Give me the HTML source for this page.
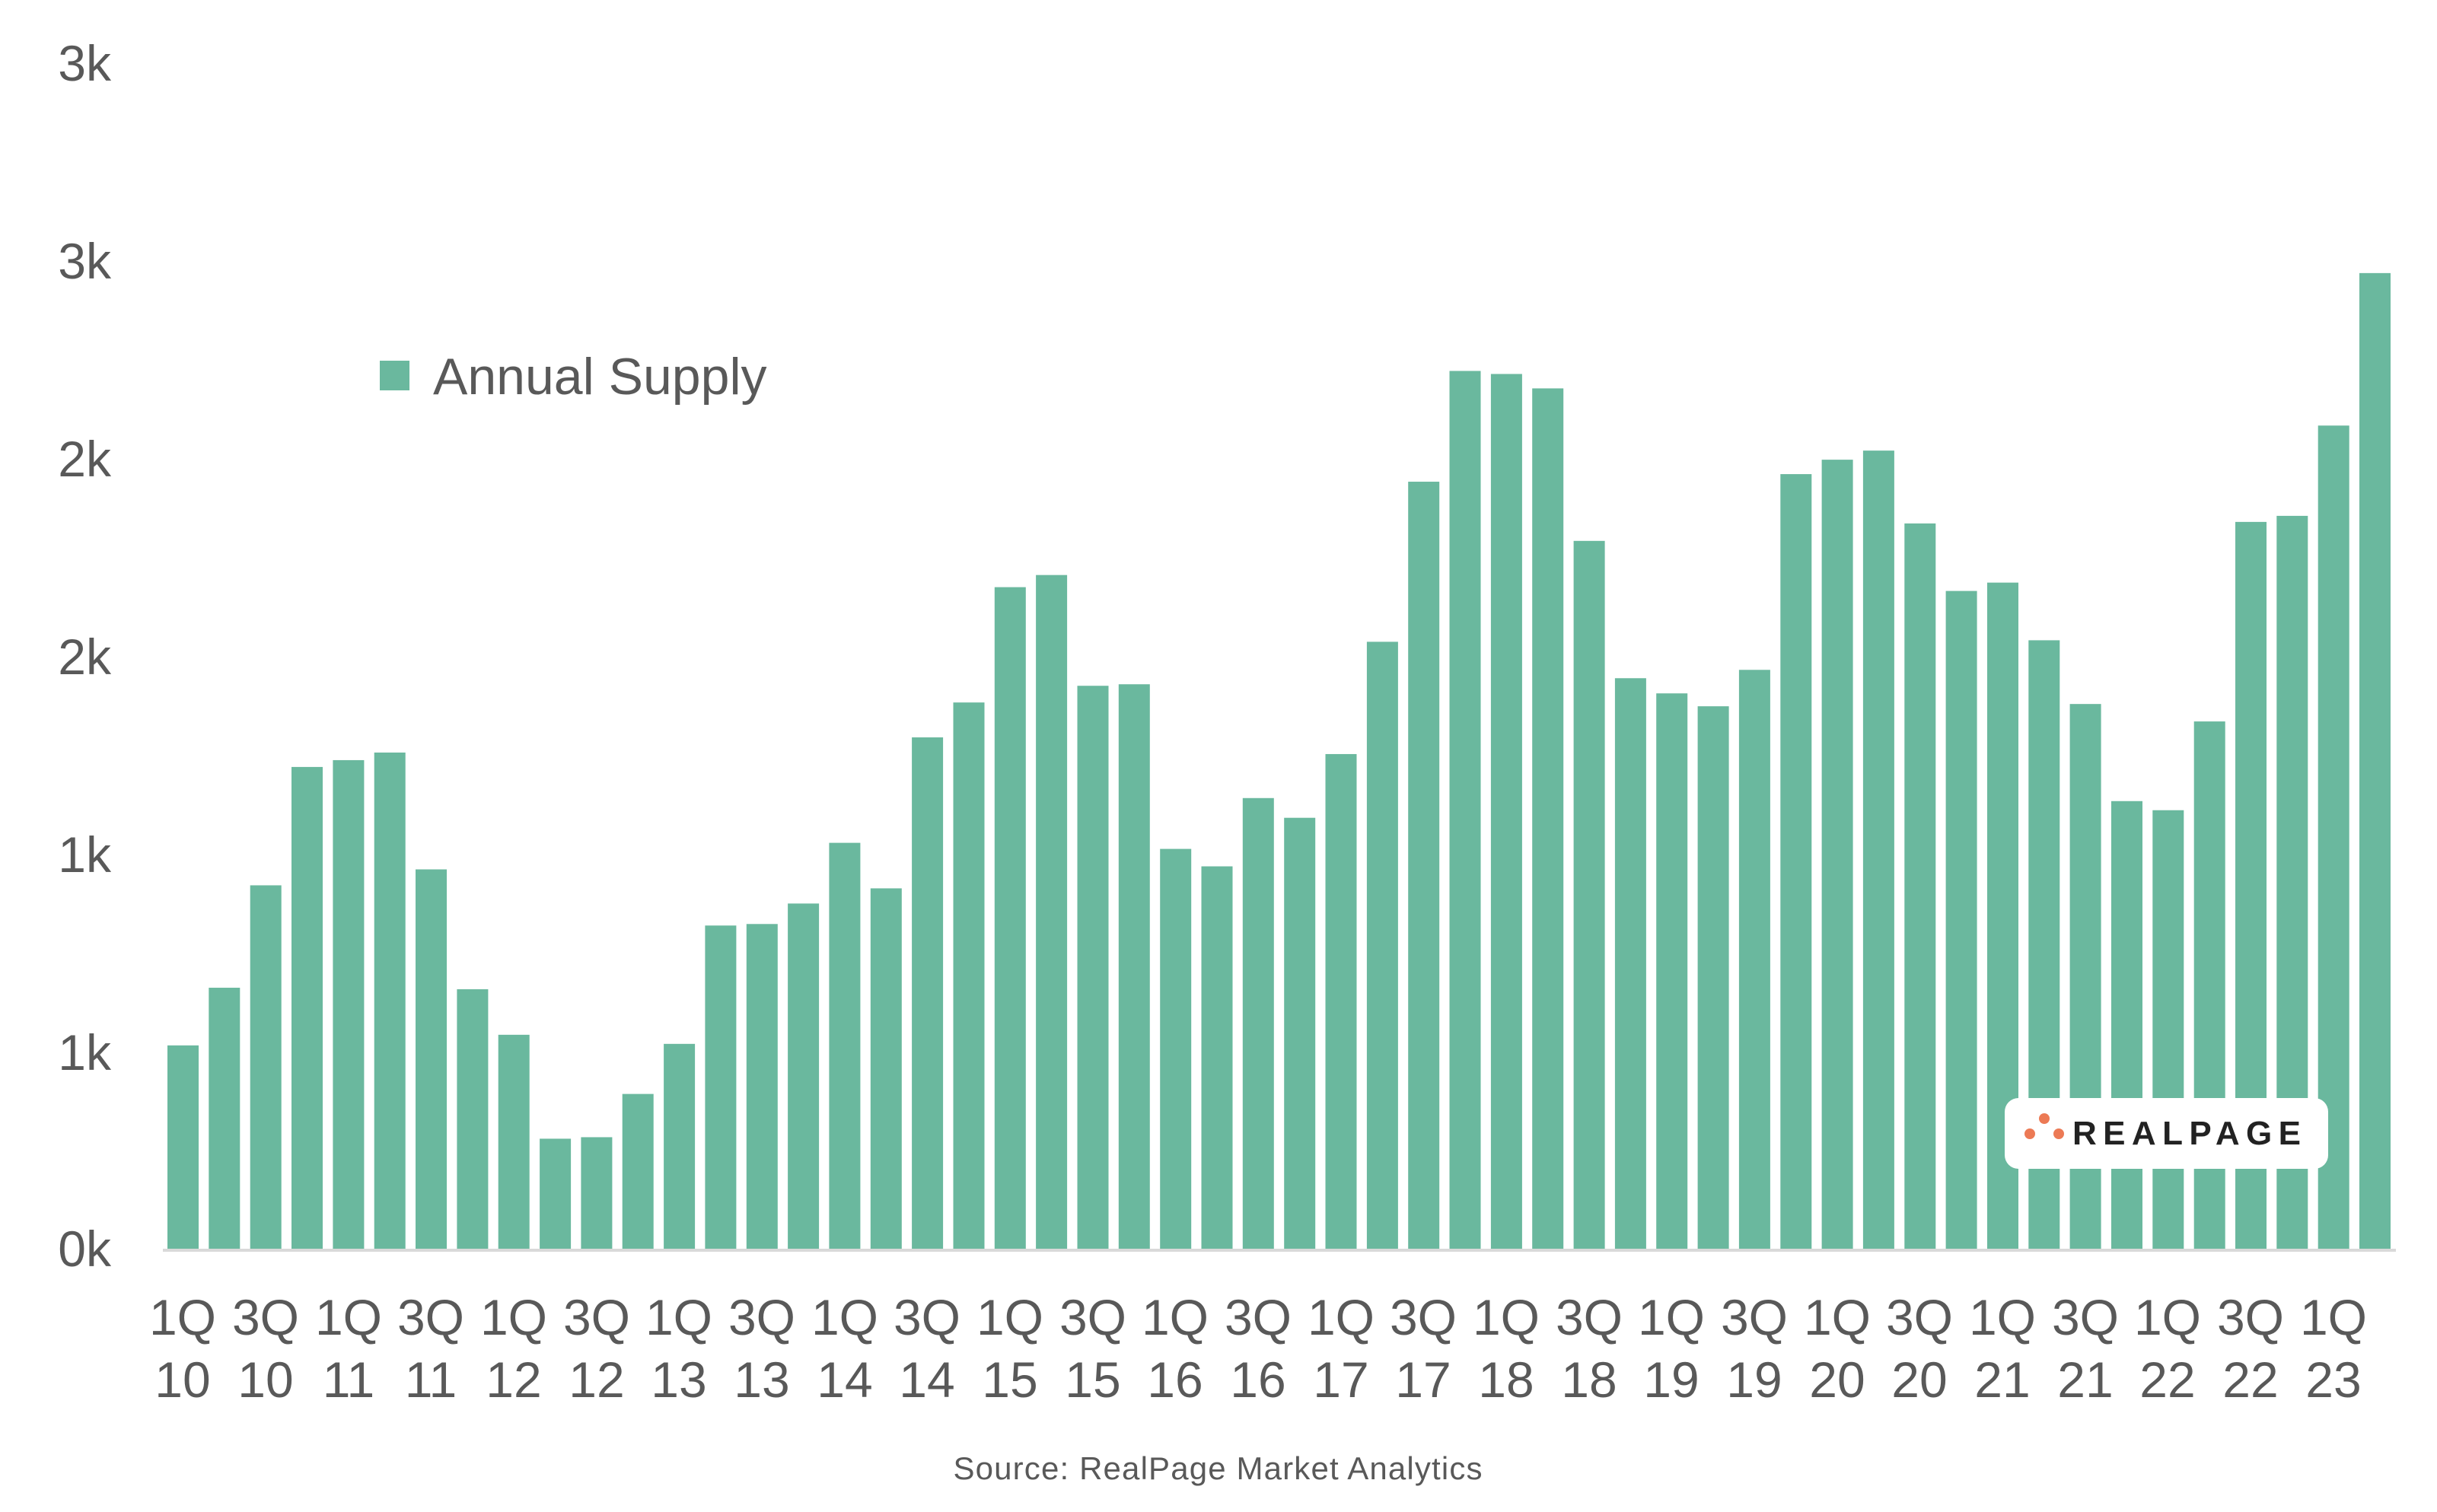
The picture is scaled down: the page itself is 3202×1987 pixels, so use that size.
<!DOCTYPE html>
<html><head><meta charset="utf-8"><style>
html,body{margin:0;padding:0;background:#fff;}
svg{display:block;}
text{font-family:"Liberation Sans",sans-serif;fill:#595959;}
</style></head><body>
<svg width="3202" height="1987" viewBox="0 0 3202 1987" xmlns="http://www.w3.org/2000/svg">
<g font-size="66" text-anchor="end">
<text x="146" y="106">3k</text>
<text x="146" y="366">3k</text>
<text x="146" y="626">2k</text>
<text x="146" y="886">2k</text>
<text x="146" y="1146">1k</text>
<text x="146" y="1406">1k</text>
<text x="146" y="1664">0k</text>
</g>
<g fill="#6ab89e" transform="translate(0,1642) scale(1,0.997) translate(0,-1646)">
<rect x="220" y="1377" width="41" height="269"/>
<rect x="274.3" y="1301" width="41" height="345"/>
<rect x="328.7" y="1166" width="41" height="480"/>
<rect x="383" y="1010" width="41" height="636"/>
<rect x="437.4" y="1001" width="41" height="645"/>
<rect x="491.7" y="991" width="41" height="655"/>
<rect x="546" y="1145" width="41" height="501"/>
<rect x="600.4" y="1303" width="41" height="343"/>
<rect x="654.7" y="1363" width="41" height="283"/>
<rect x="709.1" y="1500" width="41" height="146"/>
<rect x="763.4" y="1498" width="41" height="148"/>
<rect x="817.7" y="1441" width="41" height="205"/>
<rect x="872.1" y="1375" width="41" height="271"/>
<rect x="926.4" y="1219" width="41" height="427"/>
<rect x="980.8" y="1217" width="41" height="429"/>
<rect x="1035.1" y="1190" width="41" height="456"/>
<rect x="1089.4" y="1110" width="41" height="536"/>
<rect x="1143.8" y="1170" width="41" height="476"/>
<rect x="1198.1" y="971" width="41" height="675"/>
<rect x="1252.5" y="925" width="41" height="721"/>
<rect x="1306.8" y="773" width="41" height="873"/>
<rect x="1361.1" y="757" width="41" height="889"/>
<rect x="1415.5" y="903" width="41" height="743"/>
<rect x="1469.8" y="901" width="41" height="745"/>
<rect x="1524.2" y="1118" width="41" height="528"/>
<rect x="1578.5" y="1141" width="41" height="505"/>
<rect x="1632.8" y="1051" width="41" height="595"/>
<rect x="1687.2" y="1077" width="41" height="569"/>
<rect x="1741.5" y="993" width="41" height="653"/>
<rect x="1795.9" y="845" width="41" height="801"/>
<rect x="1850.2" y="634" width="41" height="1012"/>
<rect x="1904.5" y="488" width="41" height="1158"/>
<rect x="1958.9" y="492" width="41" height="1154"/>
<rect x="2013.2" y="511" width="41" height="1135"/>
<rect x="2067.6" y="712" width="41" height="934"/>
<rect x="2121.9" y="893" width="41" height="753"/>
<rect x="2176.2" y="913" width="41" height="733"/>
<rect x="2230.6" y="930" width="41" height="716"/>
<rect x="2284.9" y="882" width="41" height="764"/>
<rect x="2339.3" y="624" width="41" height="1022"/>
<rect x="2393.6" y="605" width="41" height="1041"/>
<rect x="2447.9" y="593" width="41" height="1053"/>
<rect x="2502.3" y="689" width="41" height="957"/>
<rect x="2556.6" y="778" width="41" height="868"/>
<rect x="2611" y="767" width="41" height="879"/>
<rect x="2665.3" y="843" width="41" height="803"/>
<rect x="2719.6" y="927" width="41" height="719"/>
<rect x="2774" y="1055" width="41" height="591"/>
<rect x="2828.3" y="1067" width="41" height="579"/>
<rect x="2882.7" y="950" width="41" height="696"/>
<rect x="2937" y="687" width="41" height="959"/>
<rect x="2991.3" y="679" width="41" height="967"/>
<rect x="3045.7" y="560" width="41" height="1086"/>
<rect x="3100" y="359" width="41" height="1287"/>
</g>
<rect x="214" y="1641" width="2934" height="4" fill="#d9d9d9"/>
<rect x="499" y="474" width="39" height="39" fill="#6ab89e"/>
<text x="569" y="518" font-size="68">Annual Supply</text>
<g font-size="66" text-anchor="middle">
<text x="240" y="1754">1Q</text><text x="240" y="1836">10</text>
<text x="349" y="1754">3Q</text><text x="349" y="1836">10</text>
<text x="458" y="1754">1Q</text><text x="458" y="1836">11</text>
<text x="566" y="1754">3Q</text><text x="566" y="1836">11</text>
<text x="675" y="1754">1Q</text><text x="675" y="1836">12</text>
<text x="784" y="1754">3Q</text><text x="784" y="1836">12</text>
<text x="892" y="1754">1Q</text><text x="892" y="1836">13</text>
<text x="1001" y="1754">3Q</text><text x="1001" y="1836">13</text>
<text x="1110" y="1754">1Q</text><text x="1110" y="1836">14</text>
<text x="1218" y="1754">3Q</text><text x="1218" y="1836">14</text>
<text x="1327" y="1754">1Q</text><text x="1327" y="1836">15</text>
<text x="1436" y="1754">3Q</text><text x="1436" y="1836">15</text>
<text x="1544" y="1754">1Q</text><text x="1544" y="1836">16</text>
<text x="1653" y="1754">3Q</text><text x="1653" y="1836">16</text>
<text x="1762" y="1754">1Q</text><text x="1762" y="1836">17</text>
<text x="1870" y="1754">3Q</text><text x="1870" y="1836">17</text>
<text x="1979" y="1754">1Q</text><text x="1979" y="1836">18</text>
<text x="2088" y="1754">3Q</text><text x="2088" y="1836">18</text>
<text x="2196" y="1754">1Q</text><text x="2196" y="1836">19</text>
<text x="2305" y="1754">3Q</text><text x="2305" y="1836">19</text>
<text x="2414" y="1754">1Q</text><text x="2414" y="1836">20</text>
<text x="2522" y="1754">3Q</text><text x="2522" y="1836">20</text>
<text x="2631" y="1754">1Q</text><text x="2631" y="1836">21</text>
<text x="2740" y="1754">3Q</text><text x="2740" y="1836">21</text>
<text x="2848" y="1754">1Q</text><text x="2848" y="1836">22</text>
<text x="2957" y="1754">3Q</text><text x="2957" y="1836">22</text>
<text x="3066" y="1754">1Q</text><text x="3066" y="1836">23</text>
</g>
<text x="1600" y="1944" font-size="42" text-anchor="middle" textLength="695">Source: RealPage Market Analytics</text>
<rect x="2634" y="1443" width="425" height="93" rx="18" fill="#fff"/>
<circle cx="2667" cy="1490" r="7" fill="#ec7a55"/>
<circle cx="2686" cy="1470" r="7" fill="#ec7a55"/>
<circle cx="2705" cy="1490" r="7" fill="#ec7a55"/>
<text x="2723" y="1504" font-size="44" font-weight="bold" textLength="300" style="fill:#222">REALPAGE</text>
</svg>
</body></html>
